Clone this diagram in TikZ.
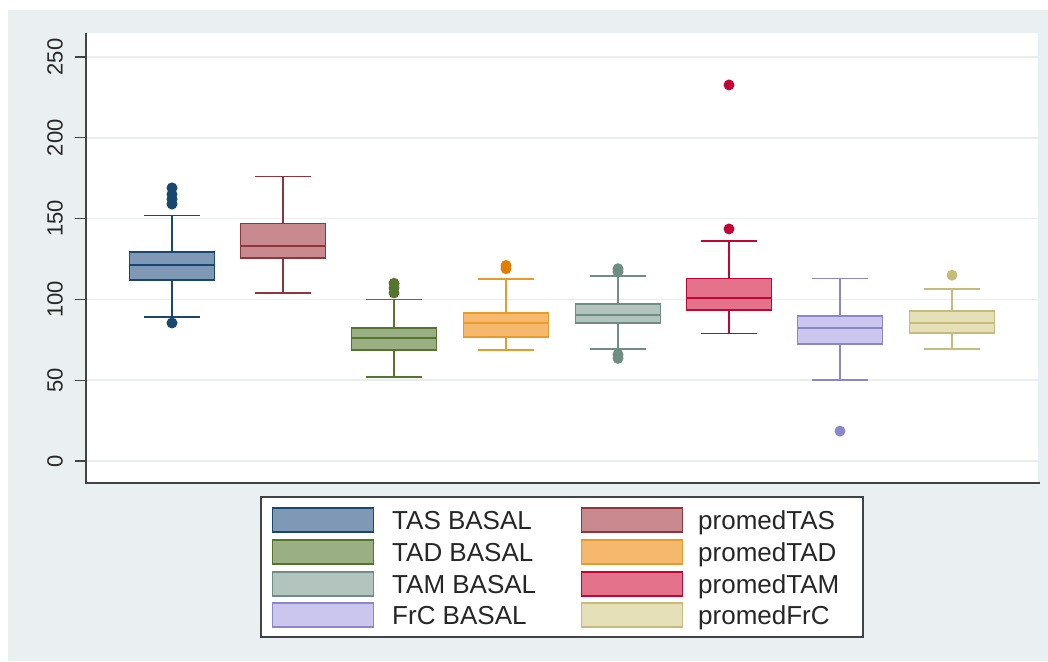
\documentclass[tikz,border=0pt]{standalone}
\usepackage{fontspec}
\setmainfont{Liberation Sans}
\usetikzlibrary{positioning}

\definecolor{outerbg}{HTML}{EAEFF2}
\definecolor{gridgray}{HTML}{EAEDEF}
\definecolor{axisgray}{HTML}{404446}
\definecolor{tasL}{HTML}{1A476F}\definecolor{tasF}{HTML}{7F98B5}
\definecolor{ptasL}{HTML}{90353B}\definecolor{ptasF}{HTML}{C88A8F}
\definecolor{tadL}{HTML}{55752F}\definecolor{tadF}{HTML}{9AAF84}
\definecolor{ptadL}{HTML}{E89A2C}\definecolor{ptadF}{HTML}{F6B86C}\definecolor{ptadD}{HTML}{E37E00}
\definecolor{tamL}{HTML}{6E8E84}\definecolor{tamF}{HTML}{B3C4BE}
\definecolor{ptamL}{HTML}{C10534}\definecolor{ptamF}{HTML}{E4728B}
\definecolor{frcL}{HTML}{8C87C8}\definecolor{frcF}{HTML}{CAC6EE}
\definecolor{pfrcL}{HTML}{C4BC78}\definecolor{pfrcF}{HTML}{E6E0B8}

\newcommand{\py}[1]{461-1.616*(#1)}
% center, low whisker, q1, median, q3, high whisker, colour prefix
\newcommand{\bplot}[7]{
  \draw[#7L, line width=1.6] (#1-28,{\py{#2}}) -- (#1+28,{\py{#2}});
  \draw[#7L, line width=1.6] (#1-28,{\py{#6}}) -- (#1+28,{\py{#6}});
  \draw[#7L, line width=1.6] (#1,{\py{#2}}) -- (#1,{\py{#3}});
  \draw[#7L, line width=1.6] (#1,{\py{#5}}) -- (#1,{\py{#6}});
  \draw[#7L, fill=#7F, line width=1.6] (#1-42.5,{\py{#3}}) rectangle (#1+42.5,{\py{#5}});
  \draw[#7L, line width=1.8] (#1-42.5,{\py{#4}}) -- (#1+42.5,{\py{#4}});
}

\tikzset{
  ticklabel/.style={rotate=90, font=\fontsize{22}{26}\selectfont, text=black!85},
  legtext/.style={anchor=base west, font=\fontsize{26}{30}\selectfont, text=black!85, inner sep=0pt},
  swatch/.style={draw=#1L, fill=#1F, line width=1.4, minimum width=101, minimum height=24, inner sep=0pt}
}

\begin{document}
\begin{tikzpicture}[x=1pt, y=-1pt]
\useasboundingbox (0,0) rectangle (1048,661);
\fill[outerbg] (8,10) rectangle (1048,661);
\fill[white] (86,33) rectangle (1038,483);

\foreach \v in {0,50,...,250} {
  \draw[gridgray, line width=1.5] (86,{\py{\v}}) -- (1038,{\py{\v}});
  \draw[axisgray, line width=1.3] (75,{\py{\v}}) -- (86,{\py{\v}});
  \node[ticklabel] (tick\v) at (55,{\py{\v}}) {\v};
}
\draw[axisgray, line width=1.8] (86,33) -- (86,483) -- (1040,483);

\bplot{172}{89}{112}{121.3}{129.3}{152}{tas}
\bplot{283}{104}{125.6}{133}{147}{176}{ptas}
\bplot{394}{52}{68.7}{76}{82.3}{100}{tad}
\bplot{506}{68.7}{76.7}{85.4}{91.6}{112.6}{ptad}
\bplot{618}{69.3}{85.4}{90.3}{97}{114.5}{tam}
\bplot{729}{79}{93.4}{101}{113}{136}{ptam}
\bplot{840}{50}{72.4}{82.3}{89.7}{113}{frc}
\bplot{952}{69.3}{79.2}{85.4}{92.8}{106.4}{pfrc}

\foreach \v in {169,165,162,159,85.4} \fill[tasL] (172,{\py{\v}}) circle (5.5);
\foreach \v in {110,107,104} \fill[tadL] (394,{\py{\v}}) circle (5.5);
\foreach \v in {121,119} \fill[ptadD] (506,{\py{\v}}) circle (5.5);
\foreach \v in {119,117,66,63.5} \fill[tamL] (618,{\py{\v}}) circle (5.5);
\foreach \v in {232.7,143.6} \fill[ptamL] (729,{\py{\v}}) circle (5.5);
\fill[frcL] (840,{\py{18.5}}) circle (5.5);
\fill[pfrcL] (952,{\py{115}}) circle (5.5);

\draw[fill=white, draw=axisgray, line width=1.5] (261,497) rectangle (863,637);

\node[swatch=tas]  (swTAS)  at (323,520) {};
\node[swatch=tad]  (swTAD)  at (323,552) {};
\node[swatch=tam]  (swTAM)  at (323,584) {};
\node[swatch=frc]  (swFRC)  at (323,615) {};
\node[swatch=ptas] (swPTAS) at (632,520) {};
\node[swatch=ptad] (swPTAD) at (632,552) {};
\node[swatch=ptam] (swPTAM) at (632,584) {};
\node[swatch=pfrc] (swPFRC) at (632,615) {};

\node[legtext] (lTAS)  at (392,529) {TAS BASAL};
\node[legtext] (lTAD)  at (392,561) {TAD BASAL};
\node[legtext] (lTAM)  at (392,593) {TAM BASAL};
\node[legtext] (lFRC)  at (392,624) {FrC BASAL};
\node[legtext] (lPTAS) at (698,529) {promedTAS};
\node[legtext] (lPTAD) at (698,561) {promedTAD};
\node[legtext] (lPTAM) at (698,593) {promedTAM};
\node[legtext] (lPFRC) at (698,624) {promedFrC};
\end{tikzpicture}
\end{document}
